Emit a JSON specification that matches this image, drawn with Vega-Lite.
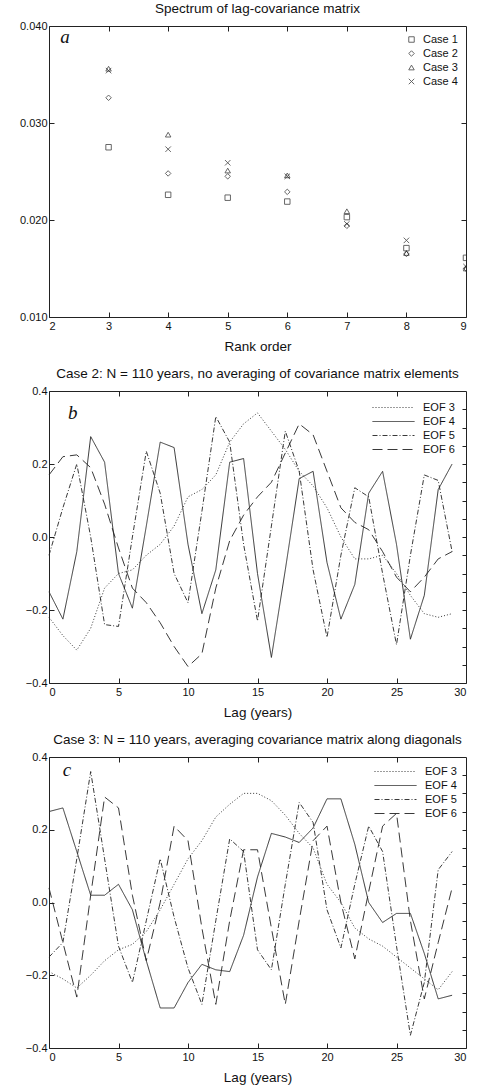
{
  "$schema": "https://vega.github.io/schema/vega-lite/v6.json",
  "padding": {"left": 18, "top": 1, "right": 8, "bottom": 2},
  "spacing": 13,
  "datasets": {
    "spectrum": [
      {"rank": 3, "case": "Case 1", "value": 0.0275}, {"rank": 4, "case": "Case 1", "value": 0.0226}, {"rank": 5, "case": "Case 1", "value": 0.0223}, {"rank": 6, "case": "Case 1", "value": 0.0219}, {"rank": 7, "case": "Case 1", "value": 0.0203}, {"rank": 8, "case": "Case 1", "value": 0.0171}, {"rank": 9, "case": "Case 1", "value": 0.0161},
      {"rank": 3, "case": "Case 2", "value": 0.0326}, {"rank": 4, "case": "Case 2", "value": 0.0248}, {"rank": 5, "case": "Case 2", "value": 0.0245}, {"rank": 6, "case": "Case 2", "value": 0.0229}, {"rank": 7, "case": "Case 2", "value": 0.0194}, {"rank": 8, "case": "Case 2", "value": 0.0165}, {"rank": 9, "case": "Case 2", "value": 0.0150},
      {"rank": 3, "case": "Case 3", "value": 0.0356}, {"rank": 4, "case": "Case 3", "value": 0.0288}, {"rank": 5, "case": "Case 3", "value": 0.0251}, {"rank": 6, "case": "Case 3", "value": 0.0246}, {"rank": 7, "case": "Case 3", "value": 0.0209}, {"rank": 8, "case": "Case 3", "value": 0.0166}, {"rank": 9, "case": "Case 3", "value": 0.0150},
      {"rank": 3, "case": "Case 4", "value": 0.0354}, {"rank": 4, "case": "Case 4", "value": 0.0273}, {"rank": 5, "case": "Case 4", "value": 0.0259}, {"rank": 6, "case": "Case 4", "value": 0.0245}, {"rank": 7, "case": "Case 4", "value": 0.0196}, {"rank": 8, "case": "Case 4", "value": 0.0179}, {"rank": 9, "case": "Case 4", "value": 0.0152}
    ],
    "caseB": [
      {"lag":0,"eof":"EOF 3","v":-0.22},{"lag":1,"eof":"EOF 3","v":-0.27},{"lag":2,"eof":"EOF 3","v":-0.31},{"lag":3,"eof":"EOF 3","v":-0.25},{"lag":4,"eof":"EOF 3","v":-0.14},{"lag":5,"eof":"EOF 3","v":-0.10},{"lag":6,"eof":"EOF 3","v":-0.09},{"lag":7,"eof":"EOF 3","v":-0.05},{"lag":8,"eof":"EOF 3","v":-0.02},{"lag":9,"eof":"EOF 3","v":0.03},{"lag":10,"eof":"EOF 3","v":0.11},{"lag":11,"eof":"EOF 3","v":0.13},{"lag":12,"eof":"EOF 3","v":0.17},{"lag":13,"eof":"EOF 3","v":0.26},{"lag":14,"eof":"EOF 3","v":0.31},{"lag":15,"eof":"EOF 3","v":0.34},{"lag":16,"eof":"EOF 3","v":0.29},{"lag":17,"eof":"EOF 3","v":0.24},{"lag":18,"eof":"EOF 3","v":0.18},{"lag":19,"eof":"EOF 3","v":0.14},{"lag":20,"eof":"EOF 3","v":0.08},{"lag":21,"eof":"EOF 3","v":0.0},{"lag":22,"eof":"EOF 3","v":-0.06},{"lag":23,"eof":"EOF 3","v":-0.06},{"lag":24,"eof":"EOF 3","v":-0.05},{"lag":25,"eof":"EOF 3","v":-0.10},{"lag":26,"eof":"EOF 3","v":-0.16},{"lag":27,"eof":"EOF 3","v":-0.21},{"lag":28,"eof":"EOF 3","v":-0.22},{"lag":29,"eof":"EOF 3","v":-0.21},
      {"lag":0,"eof":"EOF 4","v":-0.15},{"lag":1,"eof":"EOF 4","v":-0.225},{"lag":2,"eof":"EOF 4","v":-0.04},{"lag":3,"eof":"EOF 4","v":0.275},{"lag":4,"eof":"EOF 4","v":0.205},{"lag":5,"eof":"EOF 4","v":-0.10},{"lag":6,"eof":"EOF 4","v":-0.195},{"lag":7,"eof":"EOF 4","v":0.03},{"lag":8,"eof":"EOF 4","v":0.26},{"lag":9,"eof":"EOF 4","v":0.245},{"lag":10,"eof":"EOF 4","v":-0.02},{"lag":11,"eof":"EOF 4","v":-0.21},{"lag":12,"eof":"EOF 4","v":-0.09},{"lag":13,"eof":"EOF 4","v":0.205},{"lag":14,"eof":"EOF 4","v":0.215},{"lag":15,"eof":"EOF 4","v":-0.10},{"lag":16,"eof":"EOF 4","v":-0.33},{"lag":17,"eof":"EOF 4","v":-0.09},{"lag":18,"eof":"EOF 4","v":0.16},{"lag":19,"eof":"EOF 4","v":0.18},{"lag":20,"eof":"EOF 4","v":-0.07},{"lag":21,"eof":"EOF 4","v":-0.225},{"lag":22,"eof":"EOF 4","v":-0.13},{"lag":23,"eof":"EOF 4","v":0.12},{"lag":24,"eof":"EOF 4","v":0.18},{"lag":25,"eof":"EOF 4","v":-0.02},{"lag":26,"eof":"EOF 4","v":-0.28},{"lag":27,"eof":"EOF 4","v":-0.16},{"lag":28,"eof":"EOF 4","v":0.13},{"lag":29,"eof":"EOF 4","v":0.20},
      {"lag":0,"eof":"EOF 5","v":-0.05},{"lag":1,"eof":"EOF 5","v":0.08},{"lag":2,"eof":"EOF 5","v":0.20},{"lag":3,"eof":"EOF 5","v":0.0},{"lag":4,"eof":"EOF 5","v":-0.24},{"lag":5,"eof":"EOF 5","v":-0.245},{"lag":6,"eof":"EOF 5","v":0.0},{"lag":7,"eof":"EOF 5","v":0.235},{"lag":8,"eof":"EOF 5","v":0.12},{"lag":9,"eof":"EOF 5","v":-0.10},{"lag":10,"eof":"EOF 5","v":-0.18},{"lag":11,"eof":"EOF 5","v":0.07},{"lag":12,"eof":"EOF 5","v":0.33},{"lag":13,"eof":"EOF 5","v":0.26},{"lag":14,"eof":"EOF 5","v":-0.02},{"lag":15,"eof":"EOF 5","v":-0.23},{"lag":16,"eof":"EOF 5","v":0.03},{"lag":17,"eof":"EOF 5","v":0.29},{"lag":18,"eof":"EOF 5","v":0.18},{"lag":19,"eof":"EOF 5","v":-0.09},{"lag":20,"eof":"EOF 5","v":-0.275},{"lag":21,"eof":"EOF 5","v":-0.05},{"lag":22,"eof":"EOF 5","v":0.135},{"lag":23,"eof":"EOF 5","v":0.11},{"lag":24,"eof":"EOF 5","v":-0.10},{"lag":25,"eof":"EOF 5","v":-0.295},{"lag":26,"eof":"EOF 5","v":-0.05},{"lag":27,"eof":"EOF 5","v":0.17},{"lag":28,"eof":"EOF 5","v":0.155},{"lag":29,"eof":"EOF 5","v":-0.04},
      {"lag":0,"eof":"EOF 6","v":0.17},{"lag":1,"eof":"EOF 6","v":0.22},{"lag":2,"eof":"EOF 6","v":0.225},{"lag":3,"eof":"EOF 6","v":0.19},{"lag":4,"eof":"EOF 6","v":0.09},{"lag":5,"eof":"EOF 6","v":-0.03},{"lag":6,"eof":"EOF 6","v":-0.14},{"lag":7,"eof":"EOF 6","v":-0.18},{"lag":8,"eof":"EOF 6","v":-0.235},{"lag":9,"eof":"EOF 6","v":-0.30},{"lag":10,"eof":"EOF 6","v":-0.355},{"lag":11,"eof":"EOF 6","v":-0.32},{"lag":12,"eof":"EOF 6","v":-0.14},{"lag":13,"eof":"EOF 6","v":-0.01},{"lag":14,"eof":"EOF 6","v":0.06},{"lag":15,"eof":"EOF 6","v":0.11},{"lag":16,"eof":"EOF 6","v":0.15},{"lag":17,"eof":"EOF 6","v":0.23},{"lag":18,"eof":"EOF 6","v":0.31},{"lag":19,"eof":"EOF 6","v":0.28},{"lag":20,"eof":"EOF 6","v":0.18},{"lag":21,"eof":"EOF 6","v":0.08},{"lag":22,"eof":"EOF 6","v":0.04},{"lag":23,"eof":"EOF 6","v":0.02},{"lag":24,"eof":"EOF 6","v":-0.04},{"lag":25,"eof":"EOF 6","v":-0.11},{"lag":26,"eof":"EOF 6","v":-0.15},{"lag":27,"eof":"EOF 6","v":-0.11},{"lag":28,"eof":"EOF 6","v":-0.06},{"lag":29,"eof":"EOF 6","v":-0.04}
    ],
    "caseC": [
      {"lag":0,"eof":"EOF 3","v":-0.19},{"lag":1,"eof":"EOF 3","v":-0.21},{"lag":2,"eof":"EOF 3","v":-0.235},{"lag":3,"eof":"EOF 3","v":-0.20},{"lag":4,"eof":"EOF 3","v":-0.16},{"lag":5,"eof":"EOF 3","v":-0.13},{"lag":6,"eof":"EOF 3","v":-0.115},{"lag":7,"eof":"EOF 3","v":-0.08},{"lag":8,"eof":"EOF 3","v":-0.02},{"lag":9,"eof":"EOF 3","v":0.05},{"lag":10,"eof":"EOF 3","v":0.12},{"lag":11,"eof":"EOF 3","v":0.17},{"lag":12,"eof":"EOF 3","v":0.235},{"lag":13,"eof":"EOF 3","v":0.27},{"lag":14,"eof":"EOF 3","v":0.30},{"lag":15,"eof":"EOF 3","v":0.30},{"lag":16,"eof":"EOF 3","v":0.28},{"lag":17,"eof":"EOF 3","v":0.24},{"lag":18,"eof":"EOF 3","v":0.19},{"lag":19,"eof":"EOF 3","v":0.15},{"lag":20,"eof":"EOF 3","v":0.05},{"lag":21,"eof":"EOF 3","v":0.0},{"lag":22,"eof":"EOF 3","v":-0.07},{"lag":23,"eof":"EOF 3","v":-0.10},{"lag":24,"eof":"EOF 3","v":-0.12},{"lag":25,"eof":"EOF 3","v":-0.15},{"lag":26,"eof":"EOF 3","v":-0.18},{"lag":27,"eof":"EOF 3","v":-0.21},{"lag":28,"eof":"EOF 3","v":-0.24},{"lag":29,"eof":"EOF 3","v":-0.19},
      {"lag":0,"eof":"EOF 4","v":0.25},{"lag":1,"eof":"EOF 4","v":0.26},{"lag":2,"eof":"EOF 4","v":0.14},{"lag":3,"eof":"EOF 4","v":0.02},{"lag":4,"eof":"EOF 4","v":0.02},{"lag":5,"eof":"EOF 4","v":0.05},{"lag":6,"eof":"EOF 4","v":-0.02},{"lag":7,"eof":"EOF 4","v":-0.16},{"lag":8,"eof":"EOF 4","v":-0.29},{"lag":9,"eof":"EOF 4","v":-0.29},{"lag":10,"eof":"EOF 4","v":-0.22},{"lag":11,"eof":"EOF 4","v":-0.17},{"lag":12,"eof":"EOF 4","v":-0.185},{"lag":13,"eof":"EOF 4","v":-0.19},{"lag":14,"eof":"EOF 4","v":-0.09},{"lag":15,"eof":"EOF 4","v":0.07},{"lag":16,"eof":"EOF 4","v":0.19},{"lag":17,"eof":"EOF 4","v":0.18},{"lag":18,"eof":"EOF 4","v":0.165},{"lag":19,"eof":"EOF 4","v":0.205},{"lag":20,"eof":"EOF 4","v":0.285},{"lag":21,"eof":"EOF 4","v":0.285},{"lag":22,"eof":"EOF 4","v":0.16},{"lag":23,"eof":"EOF 4","v":0.0},{"lag":24,"eof":"EOF 4","v":-0.055},{"lag":25,"eof":"EOF 4","v":-0.03},{"lag":26,"eof":"EOF 4","v":-0.03},{"lag":27,"eof":"EOF 4","v":-0.14},{"lag":28,"eof":"EOF 4","v":-0.265},{"lag":29,"eof":"EOF 4","v":-0.255},
      {"lag":0,"eof":"EOF 5","v":-0.15},{"lag":1,"eof":"EOF 5","v":-0.11},{"lag":2,"eof":"EOF 5","v":0.12},{"lag":3,"eof":"EOF 5","v":0.36},{"lag":4,"eof":"EOF 5","v":0.12},{"lag":5,"eof":"EOF 5","v":-0.12},{"lag":6,"eof":"EOF 5","v":-0.22},{"lag":7,"eof":"EOF 5","v":-0.05},{"lag":8,"eof":"EOF 5","v":0.12},{"lag":9,"eof":"EOF 5","v":-0.04},{"lag":10,"eof":"EOF 5","v":-0.18},{"lag":11,"eof":"EOF 5","v":-0.28},{"lag":12,"eof":"EOF 5","v":-0.05},{"lag":13,"eof":"EOF 5","v":0.175},{"lag":14,"eof":"EOF 5","v":0.14},{"lag":15,"eof":"EOF 5","v":-0.13},{"lag":16,"eof":"EOF 5","v":-0.185},{"lag":17,"eof":"EOF 5","v":0.05},{"lag":18,"eof":"EOF 5","v":0.275},{"lag":19,"eof":"EOF 5","v":0.22},{"lag":20,"eof":"EOF 5","v":-0.02},{"lag":21,"eof":"EOF 5","v":-0.125},{"lag":22,"eof":"EOF 5","v":0.05},{"lag":23,"eof":"EOF 5","v":0.21},{"lag":24,"eof":"EOF 5","v":0.14},{"lag":25,"eof":"EOF 5","v":-0.12},{"lag":26,"eof":"EOF 5","v":-0.365},{"lag":27,"eof":"EOF 5","v":-0.22},{"lag":28,"eof":"EOF 5","v":0.09},{"lag":29,"eof":"EOF 5","v":0.14},
      {"lag":0,"eof":"EOF 6","v":0.04},{"lag":1,"eof":"EOF 6","v":-0.11},{"lag":2,"eof":"EOF 6","v":-0.26},{"lag":3,"eof":"EOF 6","v":0.02},{"lag":4,"eof":"EOF 6","v":0.29},{"lag":5,"eof":"EOF 6","v":0.26},{"lag":6,"eof":"EOF 6","v":0.02},{"lag":7,"eof":"EOF 6","v":-0.16},{"lag":8,"eof":"EOF 6","v":0.0},{"lag":9,"eof":"EOF 6","v":0.21},{"lag":10,"eof":"EOF 6","v":0.17},{"lag":11,"eof":"EOF 6","v":-0.07},{"lag":12,"eof":"EOF 6","v":-0.28},{"lag":13,"eof":"EOF 6","v":-0.05},{"lag":14,"eof":"EOF 6","v":0.145},{"lag":15,"eof":"EOF 6","v":0.145},{"lag":16,"eof":"EOF 6","v":-0.07},{"lag":17,"eof":"EOF 6","v":-0.28},{"lag":18,"eof":"EOF 6","v":-0.05},{"lag":19,"eof":"EOF 6","v":0.17},{"lag":20,"eof":"EOF 6","v":0.21},{"lag":21,"eof":"EOF 6","v":0.0},{"lag":22,"eof":"EOF 6","v":-0.155},{"lag":23,"eof":"EOF 6","v":0.03},{"lag":24,"eof":"EOF 6","v":0.21},{"lag":25,"eof":"EOF 6","v":0.245},{"lag":26,"eof":"EOF 6","v":-0.05},{"lag":27,"eof":"EOF 6","v":-0.265},{"lag":28,"eof":"EOF 6","v":-0.11},{"lag":29,"eof":"EOF 6","v":0.04}
    ]
  },
  "vconcat": [
    {
      "title": "Spectrum of lag-covariance matrix",
      "width": 417,
      "height": 291,
      "layer": [
        {
          "data": {"name": "spectrum"},
          "mark": {"type": "point", "filled": false, "color": "#111", "size": 30, "strokeWidth": 0.9, "clip": true},
          "encoding": {
            "x": {"field": "rank", "type": "quantitative", "title": "Rank order", "scale": {"domain": [2, 9], "nice": false, "zero": false}, "axis": {"values": [2,3,4,5,6,7,8,9], "format": "d"}},
            "y": {"field": "value", "type": "quantitative", "title": null, "scale": {"domain": [0.01, 0.04], "nice": false, "zero": false}, "axis": {"values": [0.01, 0.02, 0.03, 0.04], "format": ".3f"}},
            "shape": {"field": "case", "type": "nominal", "title": null, "scale": {"domain": ["Case 1", "Case 2", "Case 3", "Case 4"], "range": ["square", "diamond", "triangle-up", "M-1,-1L1,1M-1,1L1,-1"]}, "legend": {"orient": "top-right", "offset": 6, "symbolStrokeColor": "#111", "symbolFillColor": "transparent", "symbolSize": 30, "symbolStrokeWidth": 0.9, "rowPadding": 2, "labelOffset": 6}}
          }
        },
        {
          "data": {"values": [{}]},
          "mark": {"type": "text", "text": "a", "font": "Liberation Serif", "fontStyle": "italic", "fontSize": 19, "color": "#111", "baseline": "middle", "align": "center"},
          "encoding": {
            "x": {"datum": 2.27, "axis": {"orient": "top", "labels": false, "values": [3,4,5,6,7,8], "title": null}},
            "y": {"datum": 0.0389, "axis": {"orient": "right", "labels": false, "values": [0.02, 0.03], "title": null}}
          }
        }
      ],
      "resolve": {"axis": {"x": "independent", "y": "independent"}}
    },
    {
      "title": "Case 2: N = 110 years, no averaging of covariance matrix elements",
      "width": 417,
      "height": 292,
      "layer": [
        {
          "data": {"name": "caseB"},
          "mark": {"type": "line", "color": "#222", "strokeWidth": 0.9},
          "encoding": {
            "x": {"field": "lag", "type": "quantitative", "title": "Lag (years)", "scale": {"domain": [0, 30], "nice": false}, "axis": {"values": [0,5,10,15,20,25,30], "format": "d"}},
            "y": {"field": "v", "type": "quantitative", "title": null, "scale": {"domain": [-0.4, 0.4], "nice": false}, "axis": {"values": [-0.4,-0.2,0,0.2,0.4], "format": ".1f"}},
            "strokeDash": {"field": "eof", "type": "nominal", "title": null, "scale": {"domain": ["EOF 3","EOF 4","EOF 5","EOF 6"], "range": [[1,2],[1,0],[5,2,1,2],[10,5]]}, "legend": {"orient": "top-right", "offset": 9, "symbolType": "M-4.2,0L4.2,0", "symbolSize": 100, "symbolStrokeColor": "#222", "symbolFillColor": "transparent", "symbolStrokeWidth": 0.9, "rowPadding": 2, "labelOffset": 24}}
          }
        },
        {
          "data": {"values": [{}]},
          "mark": {"type": "text", "text": "b", "font": "Liberation Serif", "fontStyle": "italic", "fontSize": 19, "color": "#111", "baseline": "middle", "align": "center"},
          "encoding": {
            "x": {"datum": 1.7, "axis": {"orient": "top", "labels": false, "values": [5,10,15,20,25], "title": null}},
            "y": {"datum": 0.34, "axis": {"orient": "right", "labels": false, "values": [-0.35,-0.3,-0.25,-0.2,-0.15,-0.1,-0.05,0,0.05,0.1,0.15,0.2,0.25,0.3,0.35], "title": null, "tickSize": -4}}
          }
        }
      ],
      "resolve": {"axis": {"x": "independent", "y": "independent"}}
    },
    {
      "title": "Case 3: N = 110 years, averaging covariance matrix along diagonals",
      "width": 417,
      "height": 291,
      "layer": [
        {
          "data": {"name": "caseC"},
          "mark": {"type": "line", "color": "#222", "strokeWidth": 0.9},
          "encoding": {
            "x": {"field": "lag", "type": "quantitative", "title": "Lag (years)", "scale": {"domain": [0, 30], "nice": false}, "axis": {"values": [0,5,10,15,20,25,30], "format": "d"}},
            "y": {"field": "v", "type": "quantitative", "title": null, "scale": {"domain": [-0.4, 0.4], "nice": false}, "axis": {"values": [-0.4,-0.2,0,0.2,0.4], "format": ".1f"}},
            "strokeDash": {"field": "eof", "type": "nominal", "title": null, "scale": {"domain": ["EOF 3","EOF 4","EOF 5","EOF 6"], "range": [[1,2],[1,0],[5,2,1,2],[10,5]]}, "legend": {"orient": "top-right", "offset": 7, "symbolType": "M-4.2,0L4.2,0", "symbolSize": 100, "symbolStrokeColor": "#222", "symbolFillColor": "transparent", "symbolStrokeWidth": 0.9, "rowPadding": 2, "labelOffset": 24}}
          }
        },
        {
          "data": {"values": [{}]},
          "mark": {"type": "text", "text": "c", "font": "Liberation Serif", "fontStyle": "italic", "fontSize": 19, "color": "#111", "baseline": "middle", "align": "center"},
          "encoding": {
            "x": {"datum": 1.3, "axis": {"orient": "top", "labels": false, "values": [5,10,15,20,25], "title": null}},
            "y": {"datum": 0.364, "axis": {"orient": "right", "labels": false, "values": [-0.35,-0.3,-0.25,-0.2,-0.15,-0.1,-0.05,0,0.05,0.1,0.15,0.2,0.25,0.3,0.35], "title": null, "tickSize": -4}}
          }
        }
      ],
      "resolve": {"axis": {"x": "independent", "y": "independent"}}
    }
  ],
  "resolve": {"scale": {"strokeDash": "independent", "shape": "independent"}, "legend": {"strokeDash": "independent"}},
  "config": {
    "font": "Liberation Sans",
    "background": "white",
    "view": {"stroke": "#222", "strokeWidth": 1},
    "axis": {"domain": false, "grid": false, "tickSize": -5, "tickColor": "#222", "labelColor": "#111", "labelFontSize": 11, "titleFontSize": 13.5, "titleFontWeight": "normal", "titleColor": "#111", "titlePadding": 8},
    "axisX": {"labelPadding": 8},
    "axisY": {"labelPadding": 7},
    "title": {"fontSize": 13.5, "fontWeight": "normal", "color": "#111", "offset": 5},
    "legend": {"labelFontSize": 11, "labelColor": "#111", "padding": 2}
  }
}
